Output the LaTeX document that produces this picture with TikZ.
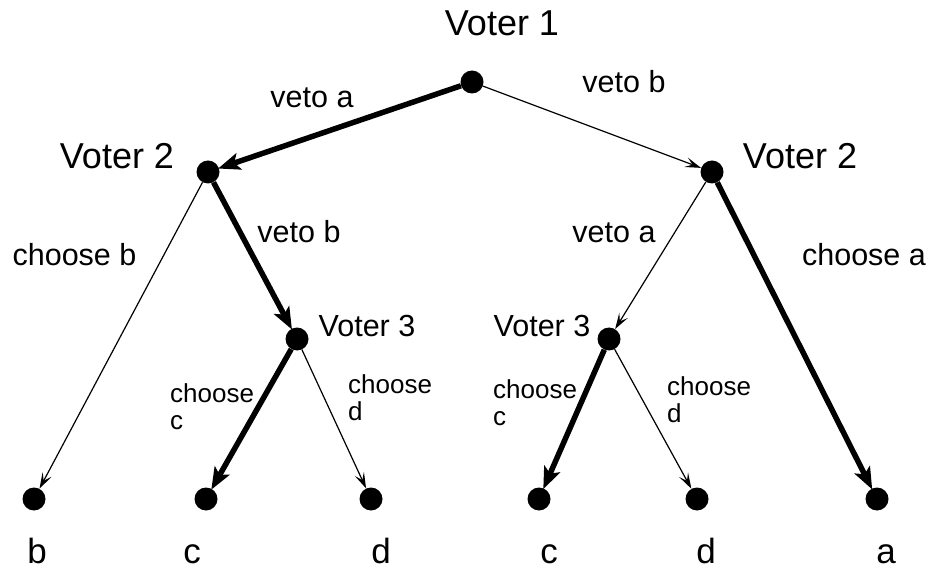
\documentclass[tikz,border=0pt]{standalone}
\usepackage{fontspec}
\setmainfont{Liberation Sans}
\usetikzlibrary{arrows.meta}
\begin{document}
\begin{tikzpicture}[x=1pt,y=-1pt,
  dot/.style={circle,fill=black,inner sep=0pt,minimum size=23pt},
  bigtxt/.style={font=\fontsize{36}{40}\selectfont,anchor=base,inner sep=0pt},
  midtxt/.style={font=\fontsize{30.5}{34}\selectfont,anchor=base,inner sep=0pt},
  smalltxt/.style={font=\fontsize{26}{27}\selectfont,align=left,anchor=north west,inner sep=0pt},
  leaftxt/.style={font=\fontsize{35}{36}\selectfont,anchor=base,inner sep=0pt},
  thickarrow/.style={line width=5.5pt,-{Stealth[length=22pt,width=17pt,inset=5pt]},shorten >=-1pt},
  thinarrow/.style={line width=1.2pt,-{Stealth[length=16pt,width=10pt,inset=7pt]}}
]
\useasboundingbox (0,0) rectangle (937,569);
% dots
\node[dot] (r) at (472,82) {};
\node[dot] (vl) at (208,172) {};
\node[dot] (vr) at (712,172) {};
\node[dot] (wl) at (297,339) {};
\node[dot] (wr) at (609,339) {};
\node[dot] (lb) at (34,499) {};
\node[dot] (lc1) at (206,499) {};
\node[dot] (ld1) at (371,499) {};
\node[dot] (lc2) at (539,499) {};
\node[dot] (ld2) at (697,499) {};
\node[dot] (la) at (877,499) {};
% edges
\draw[thickarrow] (r) -- (vl);
\draw[thinarrow] (r) -- (vr);
\draw[thinarrow] (vl) -- (lb);
\draw[thickarrow] (vl) -- (wl);
\draw[thinarrow] (vr) -- (wr);
\draw[thickarrow] (vr) -- (la);
\draw[thickarrow] (wl) -- (lc1);
\draw[thinarrow] (wl) -- (ld1);
\draw[thickarrow] (wr) -- (lc2);
\draw[thinarrow] (wr) -- (ld2);
% player labels
\node[bigtxt] (t1) at (502,36) {Voter 1};
\node[bigtxt] (t2l) at (117,169) {Voter 2};
\node[bigtxt] (t2r) at (800,169) {Voter 2};
\node[midtxt] (t3l) at (367,337) {Voter 3};
\node[midtxt] (t3r) at (542,337) {Voter 3};
% action labels
\node[midtxt] (ea) at (312,107.5) {veto a};
\node[midtxt] (eb) at (624,92.5) {veto b};
\node[midtxt] (ecb) at (74.5,266) {choose b};
\node[midtxt] (evb) at (299,243) {veto b};
\node[midtxt] (eva) at (614,243) {veto a};
\node[midtxt] (eca) at (864,266) {choose a};
\node[smalltxt] (ec1) at (170,383) {choose\\c};
\node[smalltxt] (ed1) at (348,374) {choose\\d};
\node[smalltxt] (ec2) at (493,379) {choose\\c};
\node[smalltxt] (ed2) at (667,376) {choose\\d};
% outcomes
\node[leaftxt] (ob) at (37,563) {b};
\node[leaftxt] (oc1) at (192,563) {c};
\node[leaftxt] (od1) at (381,563) {d};
\node[leaftxt] (oc2) at (549,563) {c};
\node[leaftxt] (od2) at (706,563) {d};
\node[leaftxt] (oa) at (886,563) {a};
\end{tikzpicture}
\end{document}
